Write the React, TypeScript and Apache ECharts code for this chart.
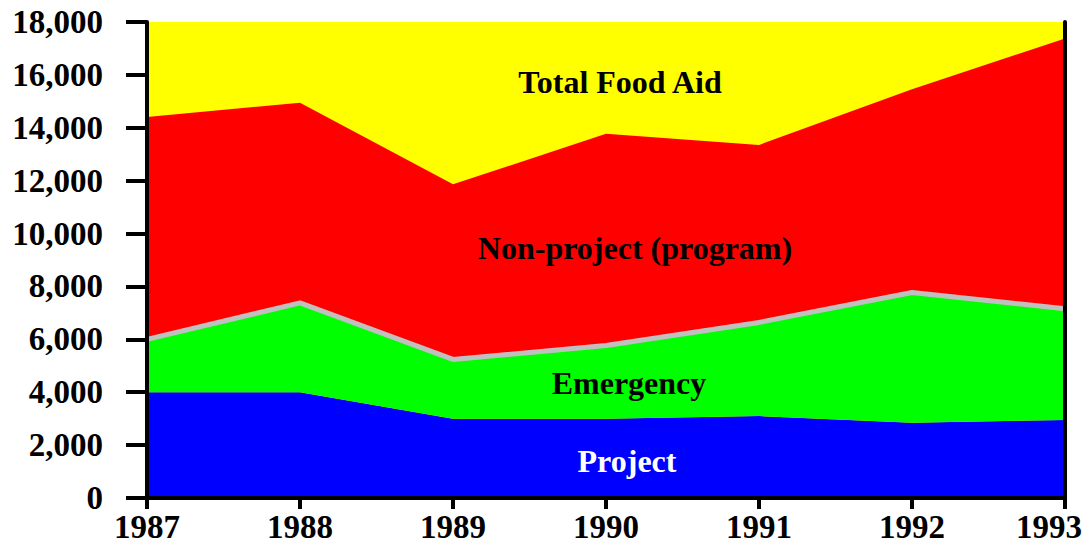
import React, { useEffect, useRef } from "react";
import * as echarts from "echarts";

const years = ["1987", "1988", "1989", "1990", "1991", "1992", "1993"];
const project = [4000, 4000, 3000, 3000, 3100, 2850, 2950];
const emergency = [2000, 3380, 2240, 2770, 3540, 4920, 4210];
const nonProject = [8410, 7570, 6620, 8000, 6710, 7690, 10220];
const yTicks = { min: 0, max: 18000, interval: 2000 };
const areaLabels = ["Total Food Aid", "Non-project (program)", "Emergency", "Project"];

const FONT = "'Liberation Serif', 'Times New Roman', serif";

export default function App() {
  const ref = useRef<HTMLDivElement>(null);
  useEffect(() => {
    if (!ref.current) return;
    const chart = echarts.init(ref.current, null, { renderer: "svg" });
    const lastYear = years[years.length - 1];
    const axisLabelStyle = {
      fontFamily: FONT,
      fontWeight: "bold" as const,
      fontSize: 33,
      color: "#000",
    };
    const labelText = (text: string, x: number, y: number, color: string) => ({
      type: "text",
      x,
      y,
      z: 100,
      style: {
        text,
        fill: color,
        font: `bold 32px ${FONT}`,
        textAlign: "center",
        textVerticalAlign: "middle",
      },
    });
    chart.setOption({
      animation: false,
      grid: {
        left: 147,
        right: 22,
        top: 22,
        bottom: 48,
        show: true,
        backgroundColor: "#ffff00",
        borderColor: "#000",
        borderWidth: 0,
      },
      xAxis: [
        {
          type: "category",
          data: years,
          boundaryGap: false,
          z: 10,
          axisLine: { show: true, lineStyle: { color: "#000", width: 4 } },
          axisTick: { show: true, length: 11, lineStyle: { color: "#000", width: 4 } },
          axisLabel: {
            ...axisLabelStyle,
            margin: 12,
            interval: 0,
            formatter: (v: string) => (v === lastYear ? `{last|${v}}` : v),
            rich: {
              last: { ...axisLabelStyle, padding: [0, 32, 0, 0] },
            },
          },
          splitLine: { show: false },
        },
        {
          type: "category",
          data: years,
          boundaryGap: false,
          position: "top",
          z: 10,
          axisLine: { show: true, lineStyle: { color: "#000", width: 4 } },
          axisTick: { show: false },
          axisLabel: { show: false },
          splitLine: { show: false },
        },
      ],
      yAxis: [
        {
          type: "value",
          min: yTicks.min,
          max: yTicks.max,
          interval: yTicks.interval,
          z: 10,
          axisLine: { show: true, lineStyle: { color: "#000", width: 4 } },
          axisTick: { show: true, length: 21, lineStyle: { color: "#000", width: 4 } },
          axisLabel: {
            ...axisLabelStyle,
            margin: 44,
            formatter: (v: number) => v.toLocaleString("en-US"),
          },
          splitLine: { show: false },
        },
        {
          type: "value",
          min: yTicks.min,
          max: yTicks.max,
          interval: yTicks.interval,
          position: "right",
          z: 10,
          axisLine: { show: true, lineStyle: { color: "#000", width: 4 } },
          axisTick: { show: false },
          axisLabel: { show: false },
          splitLine: { show: false },
        },
      ],
      series: [
        {
          name: "Project",
          type: "line",
          stack: "food",
          data: project,
          symbol: "none",
          z: 2,
          lineStyle: { width: 0 },
          areaStyle: { color: "#0000ff", opacity: 1 },
        },
        {
          name: "Emergency",
          type: "line",
          stack: "food",
          data: emergency,
          symbol: "none",
          z: 4,
          lineStyle: { width: 5, color: "#c0c0c0" },
          areaStyle: { color: "#00ff00", opacity: 1 },
        },
        {
          name: "Non-project (program)",
          type: "line",
          stack: "food",
          data: nonProject,
          symbol: "none",
          z: 3,
          lineStyle: { width: 0 },
          areaStyle: { color: "#ff0000", opacity: 1 },
        },
      ],
      graphic: [
        labelText(areaLabels[0], 620, 82, "#000"),
        labelText(areaLabels[1], 635, 248, "#000"),
        labelText(areaLabels[2], 629, 383, "#000"),
        labelText(areaLabels[3], 627, 461, "#fff"),
      ],
    });
    return () => chart.dispose();
  }, []);
  return (
    <div
      ref={ref}
      style={{ position: "fixed", left: 0, top: 0, width: 1087, height: 546, background: "#fff" }}
    />
  );
}
